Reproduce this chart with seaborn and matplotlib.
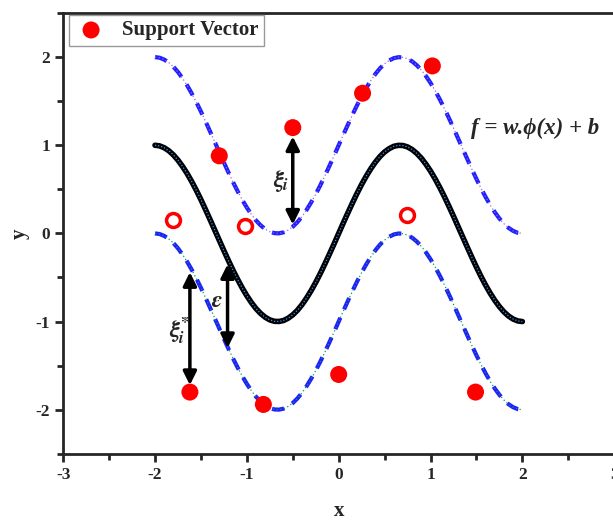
import matplotlib
matplotlib.use('Agg')
import matplotlib.pyplot as plt
import seaborn as sns
import numpy as np

# regression curve f(x), read at x = -2 .. 2 step 0.05
curve_x = [-2.00, -1.95, -1.90, -1.85, -1.80, -1.75, -1.70, -1.65, -1.60, -1.55,
           -1.50, -1.45, -1.40, -1.35, -1.30, -1.25, -1.20, -1.15, -1.10, -1.05,
           -1.00, -0.95, -0.90, -0.85, -0.80, -0.75, -0.70, -0.65, -0.60, -0.55,
           -0.50, -0.45, -0.40, -0.35, -0.30, -0.25, -0.20, -0.15, -0.10, -0.05,
           0.00, 0.05, 0.10, 0.15, 0.20, 0.25, 0.30, 0.35, 0.40, 0.45,
           0.50, 0.55, 0.60, 0.65, 0.70, 0.75, 0.80, 0.85, 0.90, 0.95,
           1.00, 1.05, 1.10, 1.15, 1.20, 1.25, 1.30, 1.35, 1.40, 1.45,
           1.50, 1.55, 1.60, 1.65, 1.70, 1.75, 1.80, 1.85, 1.90, 1.95, 2.00]
curve_y = [1.000, 0.993, 0.972, 0.938, 0.891, 0.831, 0.760, 0.679, 0.588, 0.489,
           0.383, 0.271, 0.156, 0.039, -0.078, -0.195, -0.309, -0.419, -0.522, -0.619,
           -0.707, -0.785, -0.853, -0.908, -0.951, -0.981, -0.997, -0.999, -0.988, -0.962,
           -0.924, -0.873, -0.809, -0.734, -0.649, -0.556, -0.454, -0.346, -0.233, -0.118,
           0.000, 0.118, 0.233, 0.346, 0.454, 0.556, 0.649, 0.734, 0.809, 0.873,
           0.924, 0.962, 0.988, 0.999, 0.997, 0.981, 0.951, 0.908, 0.853, 0.785,
           0.707, 0.619, 0.522, 0.419, 0.309, 0.195, 0.078, -0.039, -0.156, -0.271,
           -0.383, -0.489, -0.588, -0.679, -0.760, -0.831, -0.891, -0.938, -0.972, -0.993, -1.000]
epsilon = 1.0

# support vectors (filled) and other samples (open)
sv_x = [-1.30, -0.50, 0.26, 1.02, -1.62, -0.82, 0.00, 1.49]
sv_y = [0.88, 1.20, 1.59, 1.90, -1.80, -1.94, -1.60, -1.80]
other_x = [-1.80, -1.02, 0.74]
other_y = [0.15, 0.08, 0.21]

# double arrows: x, y start, y end
arrow_x = [-0.50, -1.62, -1.21]
arrow_y0 = [0.10, -0.44, -0.35]
arrow_y1 = [1.10, -1.72, -1.30]

curve_x = np.array(curve_x)
curve_y = np.array(curve_y)
upper_y = curve_y + epsilon
lower_y = curve_y - epsilon

sns.set_style('ticks')
plt.rcParams['font.family'] = ['Liberation Serif', 'DejaVu Serif']
plt.rcParams['font.weight'] = 'bold'
plt.rcParams['mathtext.fontset'] = 'stix'
plt.rcParams['axes.unicode_minus'] = False

fig = plt.figure(figsize=(6.13, 5.21), dpi=100)
ax = fig.add_axes([0.103, 0.129, 0.899, 0.846])

# tube borders
sns.lineplot(x=curve_x, y=upper_y, ax=ax, color='#1f1fff', lw=3, linestyle=(0, (3, 2.2)))
sns.lineplot(x=curve_x, y=upper_y, ax=ax, color='#9966ee', lw=0.9, linestyle=(0, (1, 2)))
sns.lineplot(x=curve_x, y=lower_y, ax=ax, color='#1f1fff', lw=3, linestyle=(0, (3, 2.2)))
sns.lineplot(x=curve_x, y=lower_y, ax=ax, color='#119955', lw=0.9, linestyle=(0, (1, 2)))
# f(x)
sns.lineplot(x=curve_x, y=curve_y, ax=ax, color='black', lw=4)
sns.lineplot(x=curve_x, y=curve_y, ax=ax, color='#3399ff', lw=0.9, linestyle=(0, (1, 1.5)))

sns.scatterplot(x=sv_x, y=sv_y, ax=ax, color='red', s=150, edgecolor='none',
                label='Support Vector', zorder=5)
sns.scatterplot(x=other_x, y=other_y, ax=ax, facecolor='white', edgecolor='red',
                linewidth=2.5, s=100, zorder=5)

for xa, ya, yb in zip(arrow_x, arrow_y0, arrow_y1):
    ax.annotate('', xy=(xa, yb), xytext=(xa, ya),
                arrowprops=dict(arrowstyle='<|-|>', lw=2.5, color='black',
                                mutation_scale=20, shrinkA=0, shrinkB=0))

ax.text(-0.63, 0.6, r'$\xi_i$', fontsize=17, ha='center', va='center')
ax.text(-1.74, -1.1, r'$\xi_{i}^{\!\!*}$', fontsize=17, ha='center', va='center')
ax.text(-1.33, -0.77, r'$\varepsilon$', fontsize=17, ha='center', va='center')
ax.text(1.44, 1.19, 'f = w.ϕ(x) + b', fontsize=16.5, fontweight='bold',
        fontstyle='italic', ha='left', va='center')

ax.set_xlim(-3, 3)
ax.set_ylim(-2.5, 2.5)
ax.set_xticks([-3, -2, -1, 0, 1, 2, 3])
ax.set_yticks([-2, -1, 0, 1, 2])
ax.set_xticks(np.arange(-2.5, 3, 1.0), minor=True)
ax.set_yticks(np.arange(-2.5, 2.6, 0.5), minor=True)
ax.tick_params(which='major', direction='out', length=6, width=2, labelsize=12.5)
ax.tick_params(which='minor', direction='out', length=4, width=2)
for lab in ax.get_xticklabels() + ax.get_yticklabels():
    lab.set_fontweight('bold')
for sp in ax.spines.values():
    sp.set_linewidth(2)
ax.set_xlabel('x', fontsize=15, fontweight='bold', labelpad=13)
ax.set_ylabel('y', fontsize=15, fontweight='bold', labelpad=4)

leg = ax.legend(loc='upper left', frameon=True, fancybox=False,
                edgecolor='grey', borderpad=0.25, handletextpad=0.7, handlelength=1.6,
                borderaxespad=0, bbox_to_anchor=(0.011, 0.995),
                prop={'weight': 'bold', 'size': 15})
leg.get_frame().set_linewidth(1)

fig.savefig('out.png', dpi=100)
